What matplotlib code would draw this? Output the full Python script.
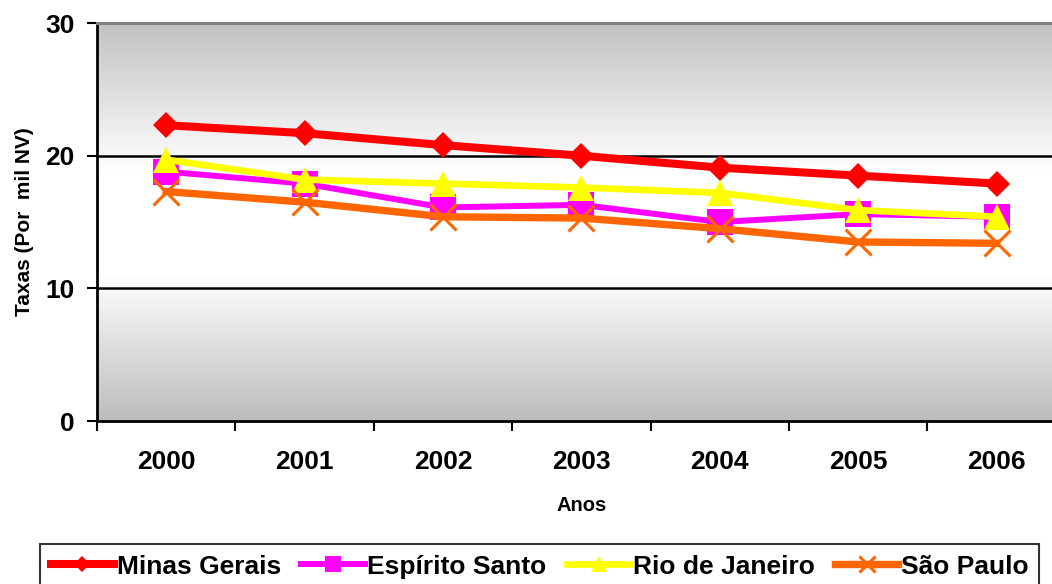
import numpy as np
import matplotlib.pyplot as plt
from matplotlib.colors import LinearSegmentedColormap

plt.rcParams['font.family'] = ['Liberation Sans', 'DejaVu Sans']
plt.rcParams['font.weight'] = 'bold'

# Dados
anos = ['2000', '2001', '2002', '2003', '2004', '2005', '2006']
minas_gerais = [22.3, 21.7, 20.8, 20.0, 19.1, 18.5, 17.9]
espirito_santo = [18.8, 17.9, 16.1, 16.3, 15.0, 15.6, 15.4]
rio_de_janeiro = [19.7, 18.2, 17.9, 17.6, 17.2, 15.9, 15.4]
sao_paulo = [17.3, 16.5, 15.4, 15.3, 14.5, 13.5, 13.4]

# nome, valores, cor, marcador, espessura da linha, tamanho do marcador
series = [
    ('Minas Gerais', minas_gerais, '#ff0000', 'D', 5.8, 13),
    ('Espírito Santo', espirito_santo, '#ff00ff', 's', 4.3, 19),
    ('Rio de Janeiro', rio_de_janeiro, '#ffff00', '^', 4.8, 19),
    ('São Paulo', sao_paulo, '#ff6600', 'x', 5.3, 19),
]

fig = plt.figure(figsize=(10.52, 5.84), dpi=100)
ax = fig.add_axes([0.0922, 0.279, 0.921, 0.6815])

x = np.arange(len(anos))

# fundo em degradê: cinza - branco - cinza
cmap = LinearSegmentedColormap.from_list('fundo', ['#bdbdbd', '#ffffff', '#ffffff', '#c2c2c2'])
grad = np.concatenate([np.linspace(0, 0.45, 128), np.linspace(0.55, 1, 128)]).reshape(-1, 1)
ax.imshow(grad, cmap=cmap, aspect='auto', extent=[-0.5, len(anos) - 0.5, 30, 0],
          origin='upper', zorder=0, interpolation='bicubic')
ax.set_xlim(-0.5, len(anos) - 0.5)
ax.set_ylim(0, 30)

for y in [10, 20]:
    ax.axhline(y, color='black', lw=1.8, zorder=1)

for nome, vals, cor, mk, lw, ms in series:
    if mk == 'x':
        ax.plot(x, vals, color=cor, lw=lw, marker=mk, ms=ms, mew=2.2, label=nome, zorder=3)
    else:
        ax.plot(x, vals, color=cor, lw=lw, marker=mk, ms=ms, mec=cor, mew=0, label=nome, zorder=3)

ax.set_yticks([0, 10, 20, 30])
ax.set_xticks(x)
ax.set_xticklabels(anos)
ax.set_xticks(np.arange(-0.5, len(anos)), minor=True)
ax.tick_params(axis='x', which='major', length=0, labelsize=19, pad=21)
ax.tick_params(axis='x', which='minor', length=7, width=1.5, direction='out')
ax.tick_params(axis='y', length=7, width=1.5, labelsize=19, pad=9)
for lab in ax.get_xticklabels() + ax.get_yticklabels():
    lab.set_fontweight('bold')

for s in ['left', 'bottom']:
    ax.spines[s].set_linewidth(2)
    ax.spines[s].set_color('black')
ax.spines['top'].set_color('#808080')
ax.spines['top'].set_linewidth(2.2)
ax.spines['right'].set_visible(False)

ax.set_xlabel('Anos', fontsize=14.5, fontweight='bold', labelpad=16)
ax.set_ylabel('Taxas (Por  mil NV)', fontsize=15, fontweight='bold', labelpad=8)

leg = fig.legend(loc='upper center', bbox_to_anchor=(0.513, 0.0685), ncol=4, frameon=True,
                 fancybox=False, edgecolor='black', handlelength=2.4, borderaxespad=0,
                 handletextpad=0.1, columnspacing=0.77, borderpad=0.4, markerscale=0.6,
                 prop={'weight': 'bold', 'size': 19})
leg.get_frame().set_linewidth(1.5)

fig.savefig('out.png', dpi=100)
